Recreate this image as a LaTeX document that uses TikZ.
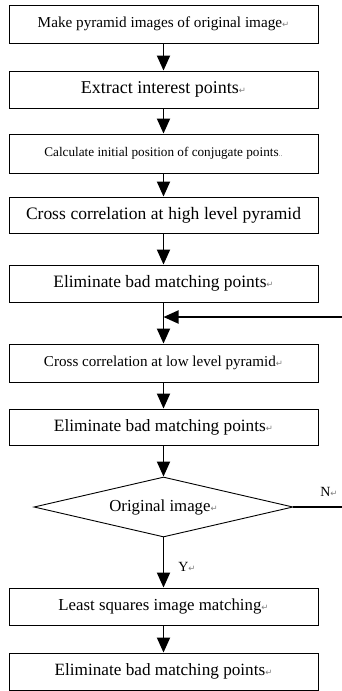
\documentclass[tikz,border=0pt]{standalone}
\usepackage{fontspec}
\setmainfont{Liberation Serif}
\newfontfamily\djfont{DejaVu Sans}
\usetikzlibrary{shapes.geometric,arrows.meta}
\newcommand{\rmk}{{\djfont\fontsize{8.5}{8.5}\selectfont\textcolor{black!50}{↵}}}
\newcommand{\fs}[1]{\fontsize{#1}{#1}\selectfont}
\begin{document}
\begin{tikzpicture}[x=1pt,y=-1pt,
  box/.style={draw=black,line width=0.9pt,minimum width=309pt,inner sep=0pt,anchor=center},
  flow/.style={line width=1.9pt,-{Triangle[width=13pt,length=15pt]}},
  plain/.style={line width=1.2pt}]
\useasboundingbox (0,0) rectangle (342,691);
\node[box,minimum height=38pt] (b1) at (163.5,24) {\fs{15.2}Make pyramid images of original image\rmk};
\node[box,minimum height=37pt] (b2) at (163.5,89.5) {\fs{18}Extract interest points\rmk};
\node[box,minimum height=39pt] (b3) at (163.5,153.5) {\fs{13.2}Calculate initial position of conjugate points{\fs{8}\textcolor{black!50}{..}}};
\node[box,minimum height=36pt] (b4) at (163.5,215) {\fs{17.5}\makebox[275pt][s]{Cross correlation at high level pyramid}};
\node[box,minimum height=37pt] (b5) at (163.5,283.5) {\fs{17.4}Eliminate bad matching points\rmk};
\node[box,minimum height=38pt] (b6) at (163.5,363) {\fs{15.1}Cross correlation at low level pyramid\rmk};
\node[box,minimum height=36pt] (b7) at (163.5,427) {\fs{17.3}Eliminate bad matching points\rmk};
\node[draw=black,line width=0.9pt,diamond,shape aspect=4.3,inner sep=0pt,minimum width=259pt,minimum height=60pt] (d) at (163.5,507) {\fs{16.8}Original image\rmk};
\node[box,minimum height=37pt] (b8) at (163.5,606.5) {\fs{16.8}Least squares image matching\rmk};
\node[box,minimum height=37pt] (b9) at (163.5,671.5) {\fs{17.2}Eliminate bad matching points\rmk};
\coordinate (fb) at (342,317);
\coordinate (nend) at (342,507);
\node[anchor=center] (nlab) at (329,492) {\fs{14}N\rmk};
\node[anchor=center] (ylab) at (187,567) {\fs{14}Y\rmk};
\draw[flow] (b1.south) -- (b2.north);
\draw[flow] (b2.south) -- (b3.north);
\draw[flow] (b3.south) -- (b4.north);
\draw[flow] (b4.south) -- (b5.north);
\draw[flow] (b5.south) -- (b6.north);
\draw[flow] (fb) -- (b5.south |- fb);
\draw[flow] (b6.south) -- (b7.north);
\draw[flow] (b7.south) -- (d.north);
\draw[plain] (d.east) -- (nend);
\draw[flow] (d.south) -- (b8.north);
\draw[flow] (b8.south) -- (b9.north);
\end{tikzpicture}
\end{document}
